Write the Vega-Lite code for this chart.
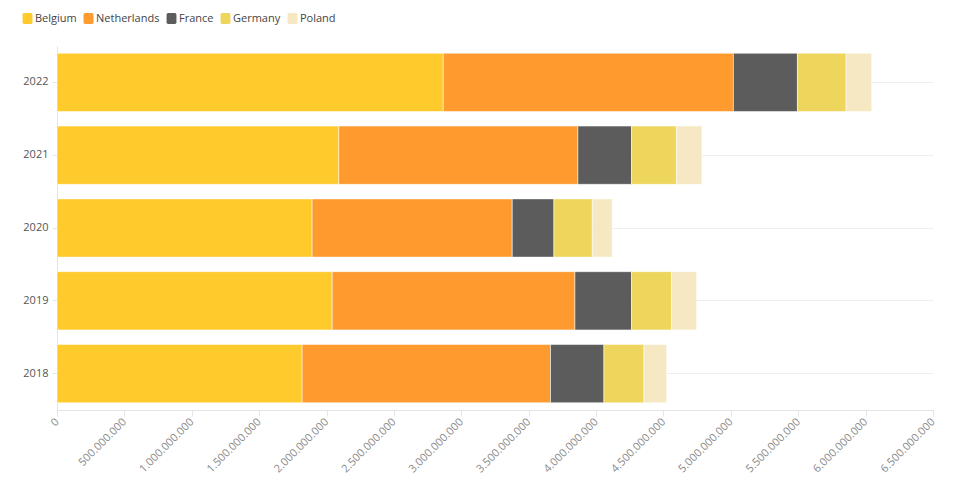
{
  "$schema": "https://vega.github.io/schema/vega-lite/v6.json",
  "width": 876,
  "height": 364,
  "autosize": {"type": "none"},
  "padding": {"left": 57, "top": 46, "right": 22, "bottom": 70},
  "config": {
    "font": "Open Sans",
    "view": {"stroke": null},
    "locale": {
      "number": {"decimal": ",", "thousands": ".", "grouping": [3], "currency": ["", " €"]}
    }
  },
  "data": {
    "values": [
      {"year": "2022", "country": "Belgium", "value": 2866000000},
      {"year": "2022", "country": "Netherlands", "value": 2153000000},
      {"year": "2022", "country": "France", "value": 475000000},
      {"year": "2022", "country": "Germany", "value": 361000000},
      {"year": "2022", "country": "Poland", "value": 190000000},
      {"year": "2021", "country": "Belgium", "value": 2091000000},
      {"year": "2021", "country": "Netherlands", "value": 1774000000},
      {"year": "2021", "country": "France", "value": 398000000},
      {"year": "2021", "country": "Germany", "value": 333000000},
      {"year": "2021", "country": "Poland", "value": 189000000},
      {"year": "2020", "country": "Belgium", "value": 1893000000},
      {"year": "2020", "country": "Netherlands", "value": 1485000000},
      {"year": "2020", "country": "France", "value": 309000000},
      {"year": "2020", "country": "Germany", "value": 285000000},
      {"year": "2020", "country": "Poland", "value": 148000000},
      {"year": "2019", "country": "Belgium", "value": 2042000000},
      {"year": "2019", "country": "Netherlands", "value": 1801000000},
      {"year": "2019", "country": "France", "value": 420000000},
      {"year": "2019", "country": "Germany", "value": 297000000},
      {"year": "2019", "country": "Poland", "value": 186000000},
      {"year": "2018", "country": "Belgium", "value": 1819000000},
      {"year": "2018", "country": "Netherlands", "value": 1843000000},
      {"year": "2018", "country": "France", "value": 396000000},
      {"year": "2018", "country": "Germany", "value": 297000000},
      {"year": "2018", "country": "Poland", "value": 168000000}
    ]
  },
  "transform": [
    {"calculate": "indexof(['Belgium', 'Netherlands', 'France', 'Germany', 'Poland'], datum.country)", "as": "stackOrder"}
  ],
  "mark": {"type": "bar", "stroke": "#ffffff", "strokeWidth": 1, "strokeOpacity": 0.5},
  "encoding": {
    "y": {
      "field": "year",
      "type": "ordinal",
      "sort": "descending",
      "title": null,
      "scale": {"paddingInner": 0.2, "paddingOuter": 0.1},
      "axis": {
        "grid": true,
        "gridColor": "#eeeeee",
        "bandPosition": 0.5,
        "domainColor": "#e4e4e4",
        "tickColor": "#e4e4e4",
        "tickSize": 5,
        "labelPadding": 4,
        "labelFontSize": 11,
        "labelColor": "#555555"
      }
    },
    "x": {
      "field": "value",
      "type": "quantitative",
      "stack": "zero",
      "title": null,
      "scale": {"domain": [0, 6500000000], "nice": false},
      "axis": {
        "values": [0, 500000000, 1000000000, 1500000000, 2000000000, 2500000000, 3000000000, 3500000000, 4000000000, 4500000000, 5000000000, 5500000000, 6000000000, 6500000000],
        "format": ",d",
        "grid": false,
        "labelAngle": -45,
        "labelAlign": "right",
        "labelBaseline": "middle",
        "labelFontSize": 11,
        "labelColor": "#8a8a8a",
        "labelPadding": 4,
        "labelOverlap": false,
        "labelFlush": false,
        "domainColor": "#e4e4e4",
        "tickColor": "#e4e4e4",
        "tickSize": 6
      }
    },
    "order": {"field": "stackOrder", "type": "quantitative", "sort": "ascending"},
    "color": {
      "field": "country",
      "type": "nominal",
      "sort": ["Belgium", "Netherlands", "France", "Germany", "Poland"],
      "scale": {
        "domain": ["Belgium", "Netherlands", "France", "Germany", "Poland"],
        "range": ["#ffca2c", "#fe9a2e", "#5c5c5c", "#eed55c", "#f5e8c2"]
      },
      "legend": {
        "orient": "none",
        "legendX": -35,
        "legendY": -33,
        "direction": "horizontal",
        "title": null,
        "padding": 0,
        "symbolType": "M-0.6,-1 H0.6 Q0.9,-1 0.9,-0.7 V0.7 Q0.9,1 0.6,1 H-0.6 Q-0.9,1 -0.9,0.7 V-0.7 Q-0.9,-1 -0.6,-1 Z",
        "symbolSize": 121,
        "symbolStrokeWidth": 0,
        "symbolOpacity": 1,
        "labelFontSize": 11,
        "labelColor": "#444444",
        "labelOffset": 2,
        "columnPadding": 6
      }
    }
  }
}
